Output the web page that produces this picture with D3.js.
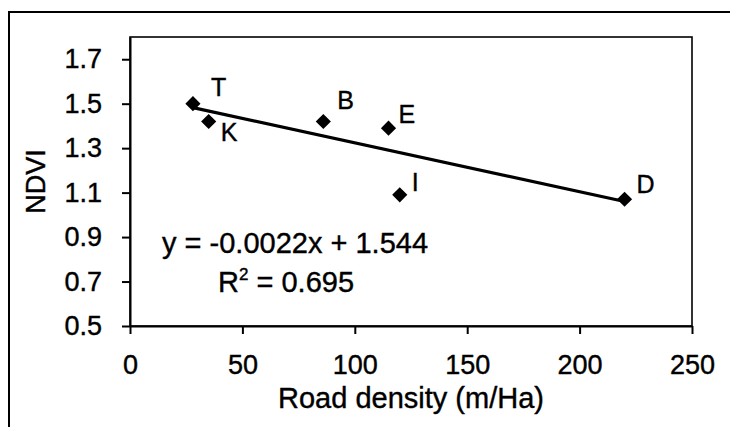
<!DOCTYPE html>
<html>
<head>
  <meta charset="utf-8">
  <title>NDVI vs road density</title>
  <style>
    body { margin: 0; background: #fff; }
    text { font-family: "Liberation Sans", Arial, sans-serif; fill: #000; stroke: #000; stroke-width: 0.4px; }
    .axis path, .axis line { stroke: #000; stroke-width: 2px; }
    .axis text { font-size: 27px; }
  </style>
</head>
<body>
  <div id="chart"></div>

  <script src="https://cdn.jsdelivr.net/npm/d3@7"></script>
  <script>
    // site data
    var sites = ["T", "K", "B", "E", "I", "D"];
    var roadDensity = [28, 35, 86, 115, 120, 220];
    var ndvi = [1.50, 1.42, 1.42, 1.39, 1.09, 1.07];

    var xTicks = [0, 50, 100, 150, 200, 250];
    var yTicks = [0.5, 0.7, 0.9, 1.1, 1.3, 1.5, 1.7];

    // fitted trend line
    var slope = -0.0022, intercept = 1.544;
    var fitRange = [28, 220];

    var width = 730, height = 427;
    var margin = {top: 37, right: 38, bottom: 101, left: 130};

    var svg = d3.select("#chart").append("svg")
      .attr("width", width)
      .attr("height", height);

    // outer frame (runs off the right and bottom edge)
    svg.append("rect")
      .attr("x", 9).attr("y", 12)
      .attr("width", 760).attr("height", 440)
      .attr("fill", "none")
      .attr("stroke", "#000")
      .attr("stroke-width", 2);

    var x = d3.scaleLinear().domain([0, 250]).range([margin.left, width - margin.right]);
    var y = d3.scaleLinear().domain([0.5, 1.8]).range([height - margin.bottom, margin.top]);

    // plot box
    svg.append("rect")
      .attr("x", x(0)).attr("y", y(1.8))
      .attr("width", x(250) - x(0))
      .attr("height", y(0.5) - y(1.8))
      .attr("fill", "none")
      .attr("stroke", "#000")
      .attr("stroke-width", 1.6);

    svg.append("g")
      .attr("class", "axis")
      .attr("transform", "translate(0," + y(0.5) + ")")
      .call(d3.axisBottom(x).tickValues(xTicks).tickSize(8).tickPadding(20).tickSizeOuter(0))
      .selectAll("text").attr("dy", "0.75em");

    svg.append("g")
      .attr("class", "axis")
      .attr("transform", "translate(" + x(0) + ",0)")
      .call(d3.axisLeft(y).tickValues(yTicks).tickSize(8).tickPadding(20).tickSizeOuter(0)
        .tickFormat(d3.format(".1f")));

    // axis titles
    svg.append("text")
      .attr("x", (x(0) + x(250)) / 2)
      .attr("y", 408)
      .attr("text-anchor", "middle")
      .style("font-size", "29px")
      .text("Road density (m/Ha)");

    svg.append("text")
      .attr("transform", "translate(45," + (y(0.5) + y(1.8)) / 2 + ") rotate(-90)")
      .attr("text-anchor", "middle")
      .style("font-size", "27px")
      .text("NDVI");

    // trend line
    svg.append("line")
      .attr("x1", x(fitRange[0])).attr("y1", y(slope * fitRange[0] + intercept))
      .attr("x2", x(fitRange[1])).attr("y2", y(slope * fitRange[1] + intercept))
      .attr("stroke", "#000")
      .attr("stroke-width", 3.2);

    // points
    var labelOffset = {
      T: [18, -8], K: [12, 20], B: [14, -12], E: [10, -5], I: [12, -4], D: [12, -6]
    };

    var pts = svg.append("g").selectAll("g")
      .data(sites)
      .enter().append("g")
      .attr("transform", function(d, i) {
        return "translate(" + x(roadDensity[i]) + "," + y(ndvi[i]) + ")";
      });

    pts.append("path")
      .attr("d", d3.symbol(d3.symbolSquare, 115))
      .attr("transform", "rotate(45)")
      .attr("fill", "#000");

    pts.append("text")
      .attr("x", function(d) { return labelOffset[d][0]; })
      .attr("y", function(d) { return labelOffset[d][1]; })
      .style("font-size", "25px")
      .text(function(d) { return d; });

    // regression equation
    svg.append("text")
      .attr("x", 162).attr("y", 253)
      .style("font-size", "29px")
      .text("y = -0.0022x + 1.544");

    var r2 = svg.append("text")
      .attr("x", 218).attr("y", 292)
      .style("font-size", "29px");
    r2.append("tspan").text("R");
    r2.append("tspan").attr("dy", -12).style("font-size", "17px").text("2");
    r2.append("tspan").attr("dy", 12).text(" = 0.695");
  </script>
</body>
</html>
